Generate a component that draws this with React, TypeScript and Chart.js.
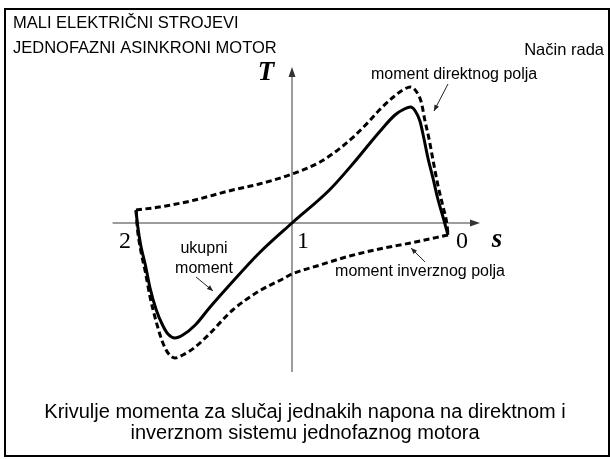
import React, { useEffect, useRef } from "react";
import { Chart, registerables } from "chart.js";

Chart.register(...registerables);

// ---- data: slip s (x) and torque T (y, arbitrary units) ----
const totalS = [2.0, 1.99, 1.97, 1.94, 1.91, 1.87, 1.83, 1.795, 1.75, 1.7, 1.62, 1.53, 1.4, 1.21, 1.0, 0.76, 0.6, 0.44, 0.34, 0.28, 0.24, 0.21, 0.18, 0.155, 0.13, 0.095, 0.065, 0.03, 0.0];
const totalT = [0.13, -0.02, -0.22, -0.42, -0.65, -0.87, -1.02, -1.11, -1.15, -1.12, -1.02, -0.85, -0.62, -0.3, 0.0, 0.33, 0.61, 0.91, 1.08, 1.14, 1.16, 1.12, 1.02, 0.85, 0.66, 0.44, 0.24, 0.05, -0.12];

const directS = [2.0, 1.85, 1.65, 1.38, 1.21, 1.0, 0.82, 0.69, 0.6, 0.51, 0.44, 0.35, 0.29, 0.24, 0.205, 0.17, 0.15, 0.12, 0.095, 0.065, 0.03, 0.006, 0.0];
const directT = [0.13, 0.16, 0.22, 0.33, 0.39, 0.49, 0.61, 0.75, 0.87, 1.01, 1.13, 1.26, 1.33, 1.36, 1.32, 1.2, 1.04, 0.83, 0.62, 0.38, 0.15, -0.02, -0.12];

const inverseS = [0.0, 0.24, 0.44, 0.63, 0.82, 1.0, 1.06, 1.21, 1.38, 1.53, 1.62, 1.7, 1.75, 1.795, 1.83, 1.87, 1.91, 1.94, 1.97, 1.99, 2.0];
const inverseT = [-0.12, -0.2, -0.26, -0.33, -0.42, -0.51, -0.56, -0.68, -0.87, -1.11, -1.24, -1.32, -1.35, -1.3, -1.19, -0.99, -0.74, -0.49, -0.27, -0.07, 0.13];

// axis tick labels on the s axis
const sTickValues = [2, 1, 0];
const sTickLabels = ["2", "1", "0"];

// texts
const titleLines = ["MALI ELEKTRIČNI STROJEVI", "JEDNOFAZNI ASINKRONI MOTOR"];
const cornerLabel = "Način rada";
const captionLines = [
  "Krivulje momenta za slučaj jednakih napona na direktnom i",
  "inverznom sistemu jednofaznog motora",
];
const labelDirect = "moment direktnog polja";
const labelInverse = "moment inverznog polja";
const labelTotal = ["ukupni", "moment"];
const axisLabelX = "s";
const axisLabelY = "T";

// scale ranges (s axis reversed: 2 on the left, 0 on the right)
const S_MIN = -1.0385;
const S_MAX = 2.8718;
const T_MIN = -2.36;
const T_MAX = 2.23;

const SANS = '"Liberation Sans", Arial, sans-serif';
const SERIF = '"Liberation Serif", "Times New Roman", serif';

function arrowHead(ctx: CanvasRenderingContext2D, x0: number, y0: number, x1: number, y1: number, len: number, half: number) {
  const a = Math.atan2(y1 - y0, x1 - x0);
  ctx.beginPath();
  ctx.moveTo(x1, y1);
  ctx.lineTo(x1 - len * Math.cos(a) + half * Math.sin(a), y1 - len * Math.sin(a) - half * Math.cos(a));
  ctx.lineTo(x1 - len * Math.cos(a) - half * Math.sin(a), y1 - len * Math.sin(a) + half * Math.cos(a));
  ctx.closePath();
  ctx.fill();
}

const overlay = {
  id: "overlay",
  beforeDatasetsDraw(chart: any) {
    const ctx: CanvasRenderingContext2D = chart.ctx;
    const xs = chart.scales.x;
    const ys = chart.scales.y;
    const X = (s: number) => xs.getPixelForValue(s);
    const Y = (t: number) => ys.getPixelForValue(t);
    ctx.save();
    // axes
    ctx.strokeStyle = "#9c9c9c";
    ctx.lineWidth = 2;
    const y0 = Math.round(Y(0));
    const x1 = Math.round(X(1));
    const xl = X(2.15), xr = X(-0.205);
    const yb = Y(-1.49), yt = Y(1.56);
    ctx.beginPath();
    ctx.moveTo(xl, y0);
    ctx.lineTo(xr - 6, y0);
    ctx.moveTo(x1, yb);
    ctx.lineTo(x1, yt + 6);
    ctx.stroke();
    ctx.fillStyle = "#333";
    arrowHead(ctx, xl, y0, xr, y0, 10, 3.5);
    arrowHead(ctx, x1, yb, x1, yt, 10, 3.5);
    ctx.restore();
  },
  afterDatasetsDraw(chart: any) {
    const ctx: CanvasRenderingContext2D = chart.ctx;
    const xs = chart.scales.x;
    const ys = chart.scales.y;
    const X = (s: number) => xs.getPixelForValue(s);
    const Y = (t: number) => ys.getPixelForValue(t);
    ctx.save();
    ctx.fillStyle = "#000";
    ctx.strokeStyle = "#000";

    // frame
    ctx.lineWidth = 2;
    ctx.strokeRect(5, 9, 604, 447);

    // titles
    ctx.font = `16.5px ${SANS}`;
    ctx.textAlign = "left";
    ctx.textBaseline = "alphabetic";
    ctx.fillText(titleLines[0], 13, 28);
    ctx.fillText(titleLines[1], 13, 53);
    ctx.textAlign = "right";
    ctx.fillText(cornerLabel, 604, 55);

    // caption
    ctx.font = `20px ${SANS}`;
    ctx.textAlign = "center";
    ctx.fillText(captionLines[0], 305, 418);
    ctx.fillText(captionLines[1], 305, 439);

    // tick labels
    ctx.font = `24px ${SERIF}`;
    const offs = [-11, 11, 14];
    sTickValues.forEach((v, i) => {
      ctx.fillText(sTickLabels[i], X(v) + offs[i], Y(0) + 25);
    });

    // axis titles
    ctx.font = `italic bold 27px ${SERIF}`;
    ctx.fillText(axisLabelX, X(-0.314), Y(0) + 24);
    ctx.fillText(axisLabelY, X(1.167), Y(1.43));

    // annotations
    ctx.font = `16px ${SANS}`;
    ctx.textAlign = "left";
    ctx.fillText(labelDirect, X(0.494), Y(1.44));
    ctx.textAlign = "right";
    ctx.fillText(labelInverse, X(-0.365), Y(-0.53));
    ctx.textAlign = "center";
    ctx.fillText(labelTotal[0], X(1.564), Y(-0.3));
    ctx.fillText(labelTotal[1], X(1.564), Y(-0.5));

    ctx.strokeStyle = "#222";
    ctx.fillStyle = "#222";
    ctx.lineWidth = 1;
    const arrows = [
      [0.0, 1.39, 0.09, 1.12],
      [0.147, -0.39, 0.237, -0.25],
      [1.615, -0.54, 1.506, -0.68],
    ];
    arrows.forEach(([sa, ta, sb, tb]) => {
      const ax = X(sa), ay = Y(ta), bx = X(sb), by = Y(tb);
      ctx.beginPath();
      ctx.moveTo(ax, ay);
      ctx.lineTo(bx, by);
      ctx.stroke();
      arrowHead(ctx, ax, ay, bx, by, 6, 2.5);
    });
    ctx.restore();
  },
};

const toPoints = (s: number[], t: number[]) => s.map((v, i) => ({ x: v, y: t[i] }));

export default function App() {
  const ref = useRef<HTMLCanvasElement>(null);
  useEffect(() => {
    const canvas = ref.current;
    if (!canvas) return;
    const common = {
      showLine: true,
      pointRadius: 0,
      borderColor: "#000",
      backgroundColor: "#000",
      fill: false,
      cubicInterpolationMode: "monotone" as const,
      borderJoinStyle: "round" as const,
    };
    const chart = new Chart(canvas, {
      type: "scatter",
      data: {
        datasets: [
          { ...common, label: "ukupni moment", data: toPoints(totalS, totalT), borderWidth: 3 },
          { ...common, label: "moment direktnog polja", data: toPoints(directS, directT), borderWidth: 3, borderDash: [6, 3.5] },
          { ...common, label: "moment inverznog polja", data: toPoints(inverseS, inverseT), borderWidth: 3, borderDash: [6, 3.5] },
        ],
      },
      options: {
        animation: false,
        responsive: false,
        devicePixelRatio: 1,
        events: [],
        layout: { padding: 0 },
        plugins: { legend: { display: false }, tooltip: { enabled: false }, title: { display: false } },
        scales: {
          x: { type: "linear", reverse: true, min: S_MIN, max: S_MAX, display: false },
          y: { type: "linear", min: T_MIN, max: T_MAX, display: false },
        },
      },
      plugins: [overlay],
    });
    return () => chart.destroy();
  }, []);
  return (
    <div style={{ position: "absolute", left: 0, top: 0, width: 610, height: 459, background: "#fff" }}>
      <canvas ref={ref} width={610} height={459} style={{ display: "block", width: 610, height: 459 }} />
    </div>
  );
}
